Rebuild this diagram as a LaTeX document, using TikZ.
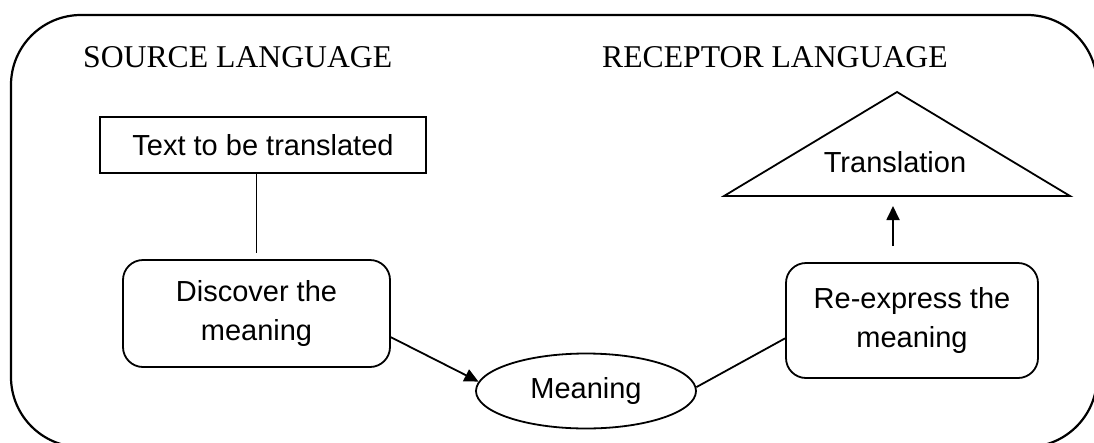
\documentclass[tikz,border=0pt]{standalone}
\usepackage{fontspec}
\setmainfont{Liberation Serif}
\newfontfamily\sansf{Liberation Sans}
\usetikzlibrary{arrows.meta,shapes.geometric,calc}
\begin{document}
\begin{tikzpicture}[x=1pt,y=-1pt,
  box/.style={draw,line width=1.8pt,align=center,inner sep=0pt,font=\sansf\fontsize{29}{39}\selectfont},
  rbox/.style={box,rounded corners=20pt},
  conn/.style={line width=1.8pt},
  arr/.style={conn,-{Triangle[length=14pt,width=13pt]}},
  heading/.style={font=\fontsize{31.7}{38}\selectfont,inner sep=0pt,anchor=base west},
  label/.style={font=\sansf\fontsize{29}{39}\selectfont,inner sep=0pt}]
\useasboundingbox (0,0) rectangle (1094,442);
\begin{scope}
\clip (0,0) rectangle (1094,442);
\draw[line width=2.2pt,rounded corners=70pt] (11,15) rectangle (1097,447);
\end{scope}
\node[heading] (src) at (83,67) {SOURCE LANGUAGE};
\node[heading] (rec) at (602,67) {RECEPTOR LANGUAGE};
\node[box,minimum width=326pt,minimum height=56pt] (text) at (263,145) {Text to be translated};
\node[rbox,minimum width=267pt,minimum height=107pt] (disc) at (256.5,313.5) {Discover the\\meaning};
\node[rbox,minimum width=252pt,minimum height=115pt] (rex) at (912,320.5) {Re-express the\\meaning};
\node[box,ellipse,minimum width=220pt,minimum height=75pt] (mean) at (586,391) {Meaning};
\coordinate (tl) at (724,196);
\coordinate (ta) at (897,92);
\coordinate (tr) at (1070,196);
\draw[conn,line join=miter] (tl) -- (ta) -- (tr) -- cycle;
\node[label] (trans) at (895,162) {Translation};
\draw[conn,shorten >=6pt] (disc.north |- text.south) -- (disc.north);
\draw[arr] (disc.-10.4) -- (mean.175.7);
\draw[conn] (mean.2) -- (rex.-172);
\coordinate (up) at ($(rex.north)+(-19,0)$);
\draw[arr,shorten <=16pt,shorten >=10pt] (up) -- (up |- tl);
\end{tikzpicture}
\end{document}
